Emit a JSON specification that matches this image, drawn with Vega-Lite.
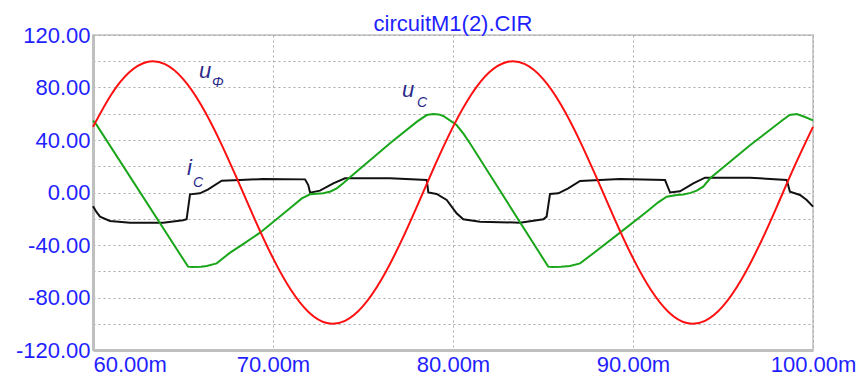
{
  "$schema": "https://vega.github.io/schema/vega-lite/v6.json",
  "width": 720,
  "height": 315,
  "autosize": {"type": "none"},
  "padding": {"left": 93, "top": 35, "right": 48, "bottom": 26},
  "background": "white",
  "title": {"text": "circuitM1(2).CIR", "color": "#1f1fff", "font": "Liberation Sans", "fontSize": 22, "fontWeight": "normal", "anchor": "middle", "frame": "group", "baseline": "bottom", "offset": -34},
  "config": {"view": {"stroke": "#cfcfcf", "strokeWidth": 2}},
  "datasets": {
    "curves": [
      {"series": "uF", "t": 60, "v": 50}, {"series": "uF", "t": 61, "v": 74.3}, {"series": "uF", "t": 62, "v": 91.4}, {"series": "uF", "t": 63, "v": 99.5}, {"series": "uF", "t": 64, "v": 97.8}, {"series": "uF", "t": 65, "v": 86.6}, {"series": "uF", "t": 66, "v": 66.9}, {"series": "uF", "t": 67, "v": 40.7}, {"series": "uF", "t": 68, "v": 10.5}, {"series": "uF", "t": 69, "v": -20.8}, {"series": "uF", "t": 70, "v": -50}, {"series": "uF", "t": 71, "v": -74.3}, {"series": "uF", "t": 72, "v": -91.4}, {"series": "uF", "t": 73, "v": -99.5}, {"series": "uF", "t": 74, "v": -97.8}, {"series": "uF", "t": 75, "v": -86.6}, {"series": "uF", "t": 76, "v": -66.9}, {"series": "uF", "t": 77, "v": -40.7}, {"series": "uF", "t": 78, "v": -10.5}, {"series": "uF", "t": 79, "v": 20.8}, {"series": "uF", "t": 80, "v": 50}, {"series": "uF", "t": 81, "v": 74.3}, {"series": "uF", "t": 82, "v": 91.4}, {"series": "uF", "t": 83, "v": 99.5}, {"series": "uF", "t": 84, "v": 97.8}, {"series": "uF", "t": 85, "v": 86.6}, {"series": "uF", "t": 86, "v": 66.9}, {"series": "uF", "t": 87, "v": 40.7}, {"series": "uF", "t": 88, "v": 10.5}, {"series": "uF", "t": 89, "v": -20.8}, {"series": "uF", "t": 90, "v": -50}, {"series": "uF", "t": 91, "v": -74.3}, {"series": "uF", "t": 92, "v": -91.4}, {"series": "uF", "t": 93, "v": -99.5}, {"series": "uF", "t": 94, "v": -97.8}, {"series": "uF", "t": 95, "v": -86.6}, {"series": "uF", "t": 96, "v": -66.9}, {"series": "uF", "t": 97, "v": -40.7}, {"series": "uF", "t": 98, "v": -10.5}, {"series": "uF", "t": 99, "v": 20.8}, {"series": "uF", "t": 100, "v": 50},
      {"series": "uC", "t": 60, "v": 54.7}, {"series": "uC", "t": 60.2, "v": 51.5}, {"series": "uC", "t": 65.28, "v": -56.5}, {"series": "uC", "t": 65.5, "v": -56.8}, {"series": "uC", "t": 66.0, "v": -56.6}, {"series": "uC", "t": 66.32, "v": -56}, {"series": "uC", "t": 66.87, "v": -54}, {"series": "uC", "t": 67.6, "v": -46}, {"series": "uC", "t": 68.4, "v": -38.7}, {"series": "uC", "t": 69.28, "v": -30.6}, {"series": "uC", "t": 70.94, "v": -12}, {"series": "uC", "t": 71.6, "v": -4.5}, {"series": "uC", "t": 72.06, "v": -1.4}, {"series": "uC", "t": 72.79, "v": -0.6}, {"series": "uC", "t": 73.2, "v": 0.8}, {"series": "uC", "t": 73.54, "v": 3.2}, {"series": "uC", "t": 73.9, "v": 7}, {"series": "uC", "t": 74.28, "v": 11.6}, {"series": "uC", "t": 76.5, "v": 37.5}, {"series": "uC", "t": 78.0, "v": 54}, {"series": "uC", "t": 78.54, "v": 59}, {"series": "uC", "t": 78.9, "v": 59.8}, {"series": "uC", "t": 79.2, "v": 59.5}, {"series": "uC", "t": 79.46, "v": 58.3}, {"series": "uC", "t": 80.2, "v": 51.4}, {"series": "uC", "t": 80.6, "v": 44.5}, {"series": "uC", "t": 80.94, "v": 37.5}, {"series": "uC", "t": 82.06, "v": 13.3}, {"series": "uC", "t": 85.29, "v": -56.5}, {"series": "uC", "t": 85.5, "v": -56.8}, {"series": "uC", "t": 86.0, "v": -56.6}, {"series": "uC", "t": 86.5, "v": -56}, {"series": "uC", "t": 87.06, "v": -54}, {"series": "uC", "t": 87.8, "v": -46.3}, {"series": "uC", "t": 89.28, "v": -30.6}, {"series": "uC", "t": 90.76, "v": -14.6}, {"series": "uC", "t": 91.4, "v": -7.5}, {"series": "uC", "t": 91.87, "v": -3.2}, {"series": "uC", "t": 92.43, "v": -1.9}, {"series": "uC", "t": 92.79, "v": -1.5}, {"series": "uC", "t": 93.2, "v": -0.3}, {"series": "uC", "t": 93.54, "v": 1.4}, {"series": "uC", "t": 93.9, "v": 4.4}, {"series": "uC", "t": 94.3, "v": 11}, {"series": "uC", "t": 96.5, "v": 36}, {"series": "uC", "t": 97.6, "v": 47.6}, {"series": "uC", "t": 98.3, "v": 55}, {"series": "uC", "t": 98.7, "v": 59}, {"series": "uC", "t": 99.1, "v": 59.8}, {"series": "uC", "t": 99.56, "v": 57.5}, {"series": "uC", "t": 100, "v": 55},
      {"series": "iC", "t": 60.0, "v": -10.5}, {"series": "iC", "t": 60.2, "v": -15}, {"series": "iC", "t": 60.39, "v": -18.4}, {"series": "iC", "t": 60.94, "v": -21.7}, {"series": "iC", "t": 62.06, "v": -23}, {"series": "iC", "t": 63.9, "v": -23}, {"series": "iC", "t": 65.0, "v": -21.2}, {"series": "iC", "t": 65.2, "v": -20.4}, {"series": "iC", "t": 65.39, "v": -1.4}, {"series": "iC", "t": 65.94, "v": -0.6}, {"series": "iC", "t": 66.4, "v": 2.4}, {"series": "iC", "t": 67.15, "v": 9}, {"series": "iC", "t": 68.17, "v": 9.5}, {"series": "iC", "t": 69.44, "v": 10.3}, {"series": "iC", "t": 71.78, "v": 10}, {"series": "iC", "t": 71.96, "v": 5.7}, {"series": "iC", "t": 72.06, "v": -0.1}, {"series": "iC", "t": 72.61, "v": 1.4}, {"series": "iC", "t": 73.35, "v": 7}, {"series": "iC", "t": 74.0, "v": 10.8}, {"series": "iC", "t": 76.5, "v": 10.8}, {"series": "iC", "t": 78.54, "v": 9.5}, {"series": "iC", "t": 78.63, "v": 0}, {"series": "iC", "t": 79.09, "v": -1.1}, {"series": "iC", "t": 79.65, "v": -5.7}, {"series": "iC", "t": 80.2, "v": -15.8}, {"series": "iC", "t": 80.57, "v": -20.4}, {"series": "iC", "t": 81.5, "v": -22.2}, {"series": "iC", "t": 83.72, "v": -23}, {"series": "iC", "t": 85.02, "v": -20.4}, {"series": "iC", "t": 85.2, "v": -18.4}, {"series": "iC", "t": 85.39, "v": -1.1}, {"series": "iC", "t": 85.85, "v": -0.6}, {"series": "iC", "t": 86.4, "v": 3.2}, {"series": "iC", "t": 87.06, "v": 8.8}, {"series": "iC", "t": 89.28, "v": 10.3}, {"series": "iC", "t": 91.78, "v": 9.5}, {"series": "iC", "t": 92.06, "v": 0}, {"series": "iC", "t": 92.61, "v": 0.9}, {"series": "iC", "t": 93.35, "v": 7}, {"series": "iC", "t": 94.0, "v": 11.3}, {"series": "iC", "t": 96.5, "v": 11.3}, {"series": "iC", "t": 98.54, "v": 9.5}, {"series": "iC", "t": 98.72, "v": 0.6}, {"series": "iC", "t": 99.28, "v": -1.9}, {"series": "iC", "t": 99.65, "v": -5.7}, {"series": "iC", "t": 100, "v": -10.8}
    ],
    "labels": [
      {"kind": "main", "t": 65.89, "v": 87.2, "text": "u"},
      {"kind": "sub", "t": 66.61, "v": 80.4, "text": "Φ"},
      {"kind": "main", "t": 77.17, "v": 72.8, "text": "u"},
      {"kind": "sub", "t": 78.0, "v": 65.1, "text": "C"},
      {"kind": "main", "t": 65.22, "v": 13.3, "text": "i"},
      {"kind": "sub", "t": 65.56, "v": 4.2, "text": "C"}
    ]
  },
  "encoding": {
    "x": {
      "field": "t", "type": "quantitative",
      "scale": {"domain": [60, 100], "nice": false, "zero": false},
      "axis": {
        "title": null, "values": [60, 70, 80, 90, 100],
        "labelExpr": "format(datum.value, '.2f') + 'm'",
        "grid": true, "gridColor": "#a8a8a8", "gridDash": [2, 3], "gridWidth": 1,
        "ticks": false, "tickSize": 0, "domain": true, "domainColor": "#bfbfbf", "domainWidth": 3,
        "labelFont": "Liberation Sans", "labelFontSize": 22, "labelColor": "#1f1fff", "labelPadding": 4,
        "labelAlign": {"condition": {"test": "datum.value == 60", "value": "left"}, "value": "center"},
        "labelOverlap": false, "labelBound": false, "labelFlush": false
      }
    },
    "y": {
      "field": "v", "type": "quantitative",
      "scale": {"domain": [-120, 120], "nice": false, "zero": false},
      "axis": {
        "title": null, "values": [-120, -100, -80, -60, -40, -20, 0, 20, 40, 60, 80, 100, 120],
        "labelExpr": "datum.value % 40 == 0 ? (datum.value < 0 ? '-' : '') + format(abs(datum.value), '.2f') : ''",
        "grid": true, "gridColor": "#a8a8a8", "gridDash": [2, 3], "gridWidth": 1,
        "ticks": false, "tickSize": 0, "domain": true, "domainColor": "#bfbfbf", "domainWidth": 3,
        "labelFont": "Liberation Sans", "labelFontSize": 22, "labelColor": "#1f1fff", "labelPadding": 3,
        "labelOverlap": false, "labelBound": false, "labelFlush": false
      }
    }
  },
  "layer": [
    {"data": {"name": "curves"}, "transform": [{"filter": "datum.series == 'iC'"}], "mark": {"type": "line", "color": "#111111", "strokeWidth": 2, "interpolate": "linear"}},
    {"data": {"name": "curves"}, "transform": [{"filter": "datum.series == 'uC'"}], "mark": {"type": "line", "color": "#1aa61a", "strokeWidth": 2, "interpolate": "linear"}},
    {"data": {"name": "curves"}, "transform": [{"filter": "datum.series == 'uF'"}], "mark": {"type": "line", "color": "#ff1010", "strokeWidth": 2, "interpolate": "natural"}},
    {"data": {"name": "labels"}, "transform": [{"filter": "datum.kind == 'main'"}], "mark": {"type": "text", "align": "left", "baseline": "alphabetic", "font": "Liberation Sans", "fontSize": 22, "fontStyle": "italic", "color": "#2b2b8c"}, "encoding": {"text": {"field": "text"}}},
    {"data": {"name": "labels"}, "transform": [{"filter": "datum.kind == 'sub'"}], "mark": {"type": "text", "align": "left", "baseline": "alphabetic", "font": "Liberation Sans", "fontSize": 14, "fontStyle": "italic", "color": "#2b2b8c"}, "encoding": {"text": {"field": "text"}}}
  ]
}
